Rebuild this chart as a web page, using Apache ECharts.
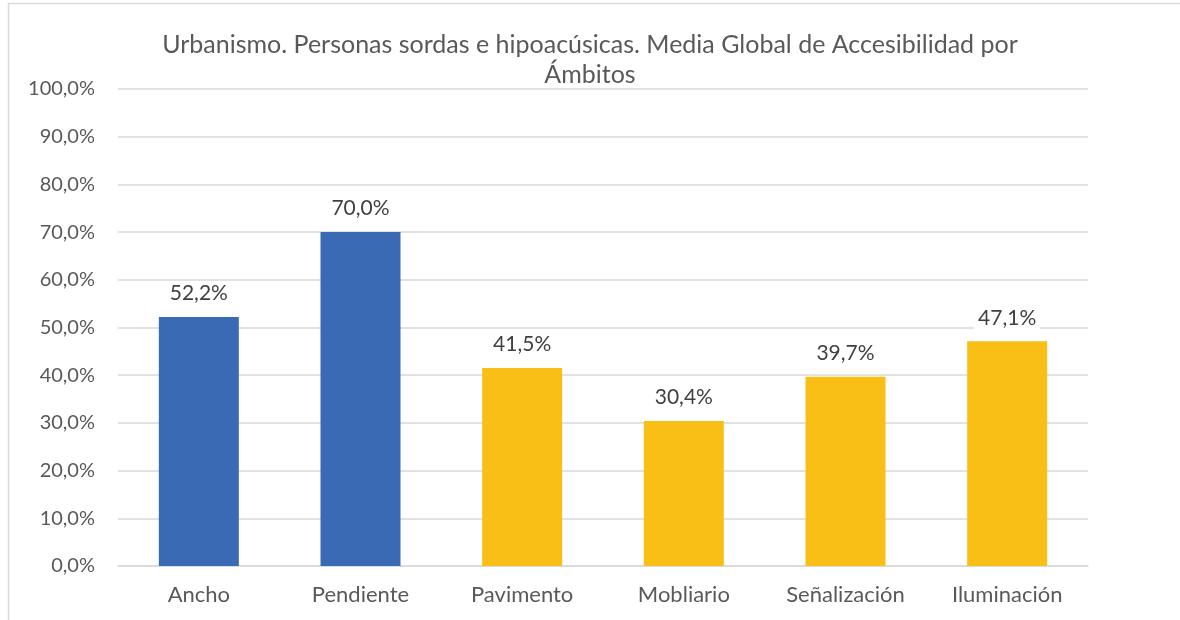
<!DOCTYPE html>
<html>
<head>
<meta charset="utf-8">
<script src="https://cdn.jsdelivr.net/npm/echarts@6/dist/echarts.min.js"></script>
<style>html,body{margin:0;padding:0;background:#fff}#c{width:1180px;height:620px}</style>
</head>
<body>
<div id="c"></div>
<script>
const titleText = 'Urbanismo. Personas sordas e hipoacúsicas. Media Global de Accesibilidad por\nÁmbitos';
const categories = ['Ancho', 'Pendiente', 'Pavimento', 'Mobliario', 'Señalización', 'Iluminación'];
const values = [0.522, 0.700, 0.415, 0.304, 0.397, 0.471];
const barColors = ['#3a6ab3', '#3a6ab3', '#f9bf16', '#f9bf16', '#f9bf16', '#f9bf16'];
const yTicks = [0, 0.1, 0.2, 0.3, 0.4, 0.5, 0.6, 0.7, 0.8, 0.9, 1.0];

const fmt = v => (v * 100).toFixed(1).replace('.', ',') + '%';
const font = 'Lato, "Open Sans", sans-serif';
const chart = echarts.init(document.getElementById('c'));
chart.setOption({
  animation: false,
  textStyle: { fontFamily: font },
  graphic: [{
    type: 'rect', shape: { x: 8.5, y: 3.5, width: 1190, height: 640 },
    style: { fill: 'none', stroke: '#d9d9d9', lineWidth: 1.5 }, silent: true
  }],
  title: {
    text: titleText, left: 'center', top: 25,
    textStyle: { fontFamily: font, fontSize: 25, fontWeight: 'normal', color: '#595959', lineHeight: 30 }
  },
  grid: { left: 118, right: 92, top: 89, bottom: 54, containLabel: false },
  xAxis: {
    type: 'category', data: categories,
    axisLine: { lineStyle: { color: '#d9d9d9', width: 1.5 } },
    axisTick: { show: false },
    axisLabel: { color: '#595959', fontSize: 22, margin: 18, fontFamily: font }
  },
  yAxis: {
    type: 'value', min: yTicks[0], max: yTicks[yTicks.length - 1], interval: 0.1,
    axisLine: { show: false }, axisTick: { show: false },
    splitLine: { lineStyle: { color: '#d9d9d9', width: 1.5 } },
    axisLabel: { color: '#595959', fontSize: 20, margin: 23, formatter: fmt, fontFamily: font }
  },
  series: [{
    type: 'bar', barWidth: 80,
    data: values.map((v, i) => ({ value: v, itemStyle: { color: barColors[i] } })),
    label: {
      show: true, position: 'top', distance: 11, color: '#404040', fontSize: 21,
      fontFamily: font, formatter: p => fmt(p.value),
      backgroundColor: '#fff', padding: [2, 4]
    }
  }]
});
</script>
</body>
</html>
